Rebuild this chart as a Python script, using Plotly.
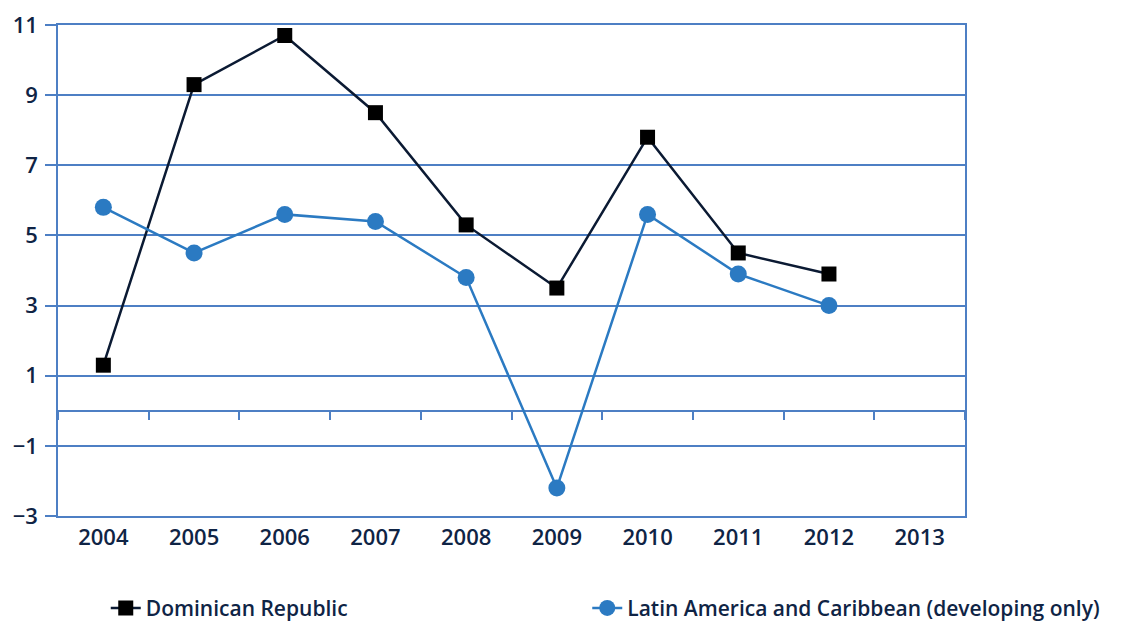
import plotly.graph_objects as go

years = ["2004", "2005", "2006", "2007", "2008", "2009", "2010", "2011", "2012", "2013"]
dominican_republic = [1.3, 9.3, 10.7, 8.5, 5.3, 3.5, 7.8, 4.5, 3.9, None]
latin_america = [5.8, 4.5, 5.6, 5.4, 3.8, -2.2, 5.6, 3.9, 3.0, None]
y_ticks = [-3, -1, 1, 3, 5, 7, 9, 11]

GRID = "#4d7fc4"
TEXT = "#0f2445"
DR_COLOR = "#0b1a33"
LAC_COLOR = "#2b7ac2"
FONT = "Open Sans"

fig = go.Figure()
fig.add_trace(go.Scatter(
    x=years, y=dominican_republic, name="Dominican Republic",
    mode="lines+markers",
    line=dict(color=DR_COLOR, width=2.5),
    marker=dict(symbol="square", size=15, color="#000000"),
    legend="legend",
))
fig.add_trace(go.Scatter(
    x=years, y=latin_america, name="Latin America and Caribbean (developing only)",
    mode="lines+markers",
    line=dict(color=LAC_COLOR, width=2.5),
    marker=dict(symbol="circle", size=17, color=LAC_COLOR),
    legend="legend2",
))
# invisible trace carrying the secondary x-axis used for the tick marks along zero
fig.add_trace(go.Scatter(x=years, y=[None] * len(years), xaxis="x2",
                         showlegend=False, hoverinfo="skip"))

tick_font = dict(family=FONT, size=22, color=TEXT, weight=600)
legend_font = dict(family=FONT, size=21, color=TEXT, weight=600)

fig.update_layout(
    width=1125, height=622,
    margin=dict(l=58, r=160, t=25, b=106, autoexpand=False),
    paper_bgcolor="white", plot_bgcolor="white",
    font=dict(family=FONT, color=TEXT, size=17),
    xaxis=dict(
        type="category", categoryorder="array", categoryarray=years,
        range=[-0.5, 9.5],
        showgrid=False, showline=True, linecolor=GRID, linewidth=1.5, mirror=True,
        ticks="", tickfont=tick_font, ticklabelstandoff=1,
        zeroline=False,
    ),
    xaxis2=dict(
        type="category", categoryorder="array", categoryarray=years,
        range=[-0.5, 9.5],
        overlaying="x", anchor="free", position=3 / 14, side="bottom",
        showgrid=False, showline=False, showticklabels=False,
        ticks="outside", tickson="boundaries", ticklen=8, tickwidth=1.5, tickcolor=GRID,
    ),
    yaxis=dict(
        range=[-3, 11], tickvals=y_ticks,
        showgrid=True, gridcolor=GRID, gridwidth=1.5,
        showline=True, linecolor=GRID, linewidth=1.5, mirror=True,
        ticks="outside", ticklen=11, tickwidth=1.5, tickcolor=GRID,
        zeroline=True, zerolinecolor=GRID, zerolinewidth=1.5,
        tickfont=tick_font, ticklabelstandoff=3,
    ),
    legend=dict(
        orientation="h", xref="container", x=0.094, xanchor="left",
        yref="container", y=0.022, yanchor="middle",
        font=legend_font, bgcolor="rgba(0,0,0,0)",
    ),
    legend2=dict(
        orientation="h", xref="container", x=0.522, xanchor="left",
        yref="container", y=0.022, yanchor="middle",
        font=legend_font, bgcolor="rgba(0,0,0,0)",
    ),
    showlegend=True,
)

fig.write_html("out.html")
